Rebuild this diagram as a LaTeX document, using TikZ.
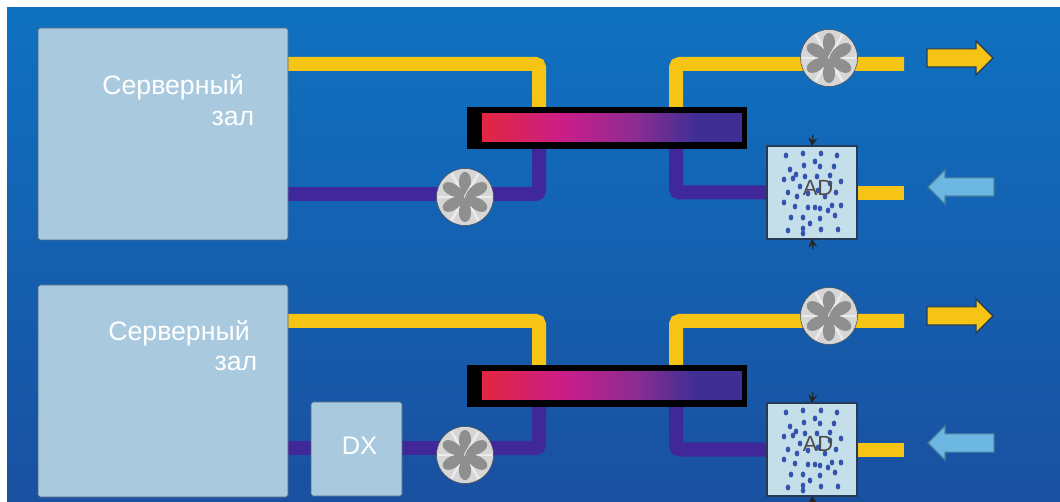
\documentclass[tikz,border=0pt]{standalone}
\usepackage{fontspec}
\setmainfont{Liberation Sans}
\usepackage{xcolor}
\usetikzlibrary{arrows.meta, positioning, calc, backgrounds, shapes.arrows}

\definecolor{hotcol}{HTML}{F6C414}
\definecolor{coldcol}{HTML}{40289A}
\definecolor{roomcol}{HTML}{A9C9DE}
\definecolor{adcol}{HTML}{C4DEEA}
\definecolor{skycol}{HTML}{6DB8E2}
\definecolor{edgecol}{HTML}{243A55}
\definecolor{skytop}{HTML}{0F71C0}
\definecolor{skylow}{HTML}{1A50A0}
\definecolor{hxred}{HTML}{E3263F}
\definecolor{hxpink}{HTML}{C81E8A}
\definecolor{hxplum}{HTML}{8A2C92}
\definecolor{hxblue}{HTML}{3F2F94}

\newcommand{\px}{0.02cm}

\pgfdeclarehorizontalshading{hxshade}{100bp}{
  color(0bp)=(hxred); color(25bp)=(hxred); color(41bp)=(hxpink);
  color(55bp)=(hxplum); color(66bp)=(hxblue); color(100bp)=(hxblue)}

\begin{document}
\begin{tikzpicture}[
  x=\px, y=-\px,
  room/.style={draw=edgecol!70!roomcol, line width=0.4pt, fill=roomcol, rounded corners=1pt,
               inner sep=0pt, outer sep=0pt, minimum width=250*\px, minimum height=212*\px},
  roomtext/.style={text=white, font=\fontsize{15.2}{18}\selectfont, inner sep=0pt},
  dxbox/.style={room, minimum width=91*\px, minimum height=94*\px},
  dxtext/.style={text=white, font=\fontsize{14.5}{18}\selectfont, inner sep=0pt},
  hxbox/.style={fill=black, inner sep=0pt, outer sep=0pt,
                minimum width=280*\px, minimum height=42*\px},
  hxcore/.style={shading=hxshade, inner sep=0pt, outer sep=0pt,
                 minimum width=260*\px, minimum height=28*\px},
  hotpipe/.style={draw=hotcol, line width=14*\px, rounded corners=2pt},
  coldpipe/.style={draw=coldcol, line width=14*\px, rounded corners=2pt},
  fan/.style={circle, draw=gray!60!black, line width=0.3pt, fill=black!16!white,
              inner sep=0pt, outer sep=0pt, minimum size=57*\px},
  blade/.style={fill=black!44!white},
  streak/.style={draw=white!92!black, line width=2.5*\px},
  adbox/.style={draw=edgecol, line width=0.8pt, fill=adcol, inner sep=0pt, outer sep=0pt,
                minimum width=90*\px, minimum height=93*\px},
  adtext/.style={text=black!70!white, font=\fontsize{12.5}{14}\selectfont, inner sep=0pt},
  addot/.style={fill=coldcol!80!cyan},
  pin/.style={-{Stealth[length=1.6mm, width=1.8mm]}, line width=0.7pt, black!85!white},
  outarrow/.style={single arrow, draw=edgecol, line width=0.7pt, fill=hotcol,
                   minimum width=33*\px, minimum height=66*\px,
                   single arrow head extend=8*\px, single arrow head indent=0pt,
                   inner xsep=0pt, inner ysep=8.5*\px, outer sep=0pt},
  inarrow/.style={outarrow, fill=skycol, draw=skycol!70!black, shape border rotate=180}
]
  \useasboundingbox (0,0) rectangle (1060,502);

  % upper row
  \node[room] (room1) at (163,134) {};
  \node[roomtext] (name1) at ($(room1)+(10,-47)$) {Серверный};
  \node[roomtext] (hall1) at ($(room1)+(70,-16)$) {зал};
  \node[hxbox] (hx1) at (607,128) {};
  \node[hxcore] (core1) at ($(hx1)+(5,0)$) {};
  \node[fan] (fanc1) at (465,197) {};
  \node[fan] (fanh1) at (829,58) {};
  \node[adbox] (ad1) at (812,192.5) {};
  \node[outarrow] (out1) at (955.5,58) {};
  \node[inarrow] (in1) at (965.5,187) {};

  % lower row
  \node[room] (room2) at (163,391) {};
  \node[roomtext] (name2) at ($(room2)+(16,-58)$) {Серверный};
  \node[roomtext] (hall2) at ($(room2)+(73,-28)$) {зал};
  \node[dxbox] (dx2) at (356.5,449) {};
  \node[dxtext] (dxname) at ($(dx2)+(3,-3)$) {DX};
  \node[hxbox] (hx2) at (607,386) {};
  \node[hxcore] (core2) at ($(hx2)+(5,0)$) {};
  \node[fan] (fanc2) at (465,455) {};
  \node[fan] (fanh2) at (829,316) {};
  \node[adbox] (ad2) at (812,449.5) {};
  \node[outarrow] (out2) at (955.5,316) {};
  \node[inarrow] (in2) at (965.5,443) {};

  \foreach \f in {fanc1,fanh1,fanc2,fanh2}
    \foreach \a in {0,60,...,300} {
      \draw[streak, shift={(\f.center)}, rotate=\a+30] (0,0) -- (0,-27);
      \fill[blade, shift={(\f.center)}, rotate=\a] (0,0) .. controls (-9,-10) and (-7,-25) .. (0,-25)
        .. controls (7,-25) and (9,-10) .. (0,0);
    }

  \foreach \b in {ad1,ad2}
    \foreach \dx/\dy in {-26/-37,-9/-39,9/-39,25/-37,-22/-23,-8/-27,3/-31,8/-26,22/-26,
      -28/-13,-19/-14,-16/-18,-7/-16,5/-16,18/-17,29/-11,-24/0,-12/-6,-15/4,-4/1,6/-2,
      13/4,24/0,18/-9,-28/10,-17/14,-4/15,3/15,8/16,16/18,20/13,29/13,-21/25,-9/25,
      -2/31,8/26,23/23,-24/38,-9/36,-9/41,9/37,26/37}
      \fill[addot] ($(\b.center)+(\dx,\dy)$) ellipse (2.3 and 3);
  \node[adtext] (adname1) at ($(ad1)+(6,-5)$) {AD};
  \node[adtext] (adname2) at ($(ad2)+(6,-6)$) {AD};

  \coordinate (hot1) at ($(room1.east)+(0,-70)$);
  \coordinate (cold1) at ($(room1.east)+(0,60)$);
  \coordinate (hot2) at ($(room2.east)+(0,-70)$);
  \coordinate (cold2) at ($(room2.east)+(0,57)$);
  \coordinate (end1) at (904,64);
  \coordinate (end2) at (904,321);
  \coordinate (stub1) at (904,193);
  \coordinate (stub2) at (904,450);

  \begin{scope}[on background layer]
    \shade[top color=skytop, bottom color=skylow] (7,8) rectangle (1060,502);
    \draw[hotpipe] (hot1) -| ($(hx1.north)+(-68,0)$);
    \draw[hotpipe] ($(hx1.north)+(69,0)$) |- (end1);
    \draw[coldpipe] (cold1) -- (cold1 -| fanc1.center);
    \draw[coldpipe] (cold1 -| fanc1.center) -| ($(hx1.south)+(-68,0)$);
    \draw[coldpipe] ($(hx1.south)+(69,0)$) |- (ad1.west);
    \draw[hotpipe] (stub1) -- (stub1 -| ad1.east);

    \draw[hotpipe] (hot2) -| ($(hx2.north)+(-68,0)$);
    \draw[hotpipe] ($(hx2.north)+(69,0)$) |- (end2);
    \draw[coldpipe] (cold2) -- (cold2 -| dx2.center);
    \draw[coldpipe] (cold2 -| dx2.center) -- (cold2 -| fanc2.center);
    \draw[coldpipe] (cold2 -| fanc2.center) -| ($(hx2.south)+(-68,0)$);
    \draw[coldpipe] ($(hx2.south)+(69,0)$) |- (ad2.west);
    \draw[hotpipe] (stub2) -- (stub2 -| ad2.east);
  \end{scope}

  \draw[pin] ($(ad1.north)+(1,-11)$) -- (ad1.north);
  \draw[pin] ($(ad1.south)+(1,10)$) -- (ad1.south);
  \draw[pin] ($(ad2.north)+(1,-11)$) -- (ad2.north);
  \draw[pin] ($(ad2.south)+(1,10)$) -- (ad2.south);
\end{tikzpicture}
\end{document}
